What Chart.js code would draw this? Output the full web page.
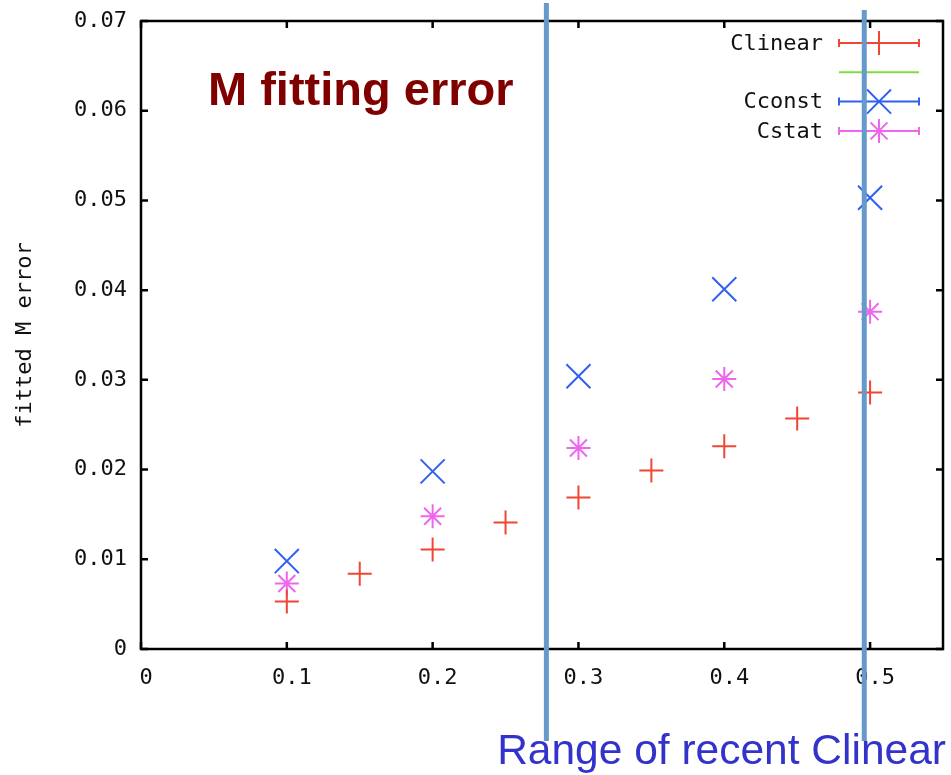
<!DOCTYPE html>
<html>
<head>
<meta charset="utf-8">
<script src="https://cdn.jsdelivr.net/npm/chart.js@4.4.1/dist/chart.umd.min.js"></script>
<style>
  html, body { margin: 0; padding: 0; background: #ffffff; overflow: hidden; }
  canvas { display: block; }
</style>
</head>
<body>
<canvas id="fitChart" width="951" height="775"></canvas>
<script>
// values
var clinearX = [0.1, 0.15, 0.2, 0.25, 0.3, 0.35, 0.4, 0.45, 0.5];
var clinearY = [0.0053, 0.0084, 0.0111, 0.0141, 0.0169, 0.0199, 0.0226, 0.0257, 0.0286];
var cconstX = [0.1, 0.2, 0.3, 0.4, 0.5];
var cconstY = [0.0098, 0.0198, 0.0304, 0.0401, 0.0503];
var cstatX = [0.1, 0.2, 0.3, 0.4, 0.5];
var cstatY = [0.0073, 0.0148, 0.0224, 0.0301, 0.0376];
var xTicks = [0, 0.1, 0.2, 0.3, 0.4, 0.5];
var yTicks = [0, 0.01, 0.02, 0.03, 0.04, 0.05, 0.06, 0.07];
var legendNames = ['Clinear', '', 'Cconst', 'Cstat'];
var rangeLines = [0.278, 0.496];

var monoFont = '"DejaVu Sans Mono", "Liberation Mono", monospace';

function toPoints(xs, ys) {
    return xs.map(function (x, i) { return { x: x, y: ys[i] }; });
}

// box around the plot with gnuplot style inward ticks on all four sides,
// x tick labels are drawn here too
var framePlugin = {
    id: 'frame',
    afterDatasetsDraw: function (chart) {
        var ctx = chart.ctx;
        var a = chart.chartArea;
        var xs = chart.scales.x, ys = chart.scales.y;
        ctx.save();
        ctx.strokeStyle = '#000';
        ctx.lineWidth = 2.5;
        ctx.strokeRect(a.left, a.top, a.right - a.left, a.bottom - a.top);
        ctx.beginPath();
        xTicks.forEach(function (v) {
            var px = xs.getPixelForValue(v);
            ctx.moveTo(px, a.bottom); ctx.lineTo(px, a.bottom - 7);
            ctx.moveTo(px, a.top); ctx.lineTo(px, a.top + 7);
        });
        yTicks.forEach(function (v) {
            var py = ys.getPixelForValue(v);
            ctx.moveTo(a.left, py); ctx.lineTo(a.left + 7, py);
            ctx.moveTo(a.right, py); ctx.lineTo(a.right - 7, py);
        });
        ctx.stroke();

        ctx.fillStyle = '#111';
        ctx.font = '22px ' + monoFont;
        ctx.textAlign = 'center';
        ctx.textBaseline = 'middle';
        xTicks.forEach(function (v) {
            ctx.fillText(String(v), xs.getPixelForValue(v) + 5, a.bottom + 29);
        });
        ctx.restore();
    }
};

// legend in the top right corner, errorbar style samples
var legendPlugin = {
    id: 'keyBox',
    afterDatasetsDraw: function (chart) {
        var ctx = chart.ctx;
        var textRight = 823, x1 = 839, x2 = 919, top = 43, step = 29.3;
        ctx.save();
        ctx.font = '22px ' + monoFont;
        ctx.textAlign = 'right';
        ctx.textBaseline = 'middle';
        chart.data.datasets.forEach(function (ds, i) {
            var y = top + i * step;
            ctx.fillStyle = '#111';
            if (legendNames[i]) ctx.fillText(legendNames[i], textRight, y + 1);
            ctx.strokeStyle = ds.borderColor;
            ctx.lineWidth = 2;
            ctx.beginPath();
            ctx.moveTo(x1, y); ctx.lineTo(x2, y);
            if (ds.pointStyle) {
                ctx.moveTo(x1, y - 4); ctx.lineTo(x1, y + 4);
                ctx.moveTo(x2, y - 4); ctx.lineTo(x2, y + 4);
            }
            ctx.stroke();
            if (ds.pointStyle) {
                Chart.helpers.drawPoint(ctx, {
                    pointStyle: ds.pointStyle,
                    radius: ds.pointRadius,
                    borderWidth: 2
                }, (x1 + x2) / 2, y);
            }
        });
        ctx.restore();
    }
};

// overlay: title, range markers and caption
var notesPlugin = {
    id: 'notes',
    afterDraw: function (chart) {
        var ctx = chart.ctx;
        var xs = chart.scales.x;
        ctx.save();
        ctx.fillStyle = '#800000';
        ctx.font = 'bold 47px "Liberation Sans", Arial, sans-serif';
        ctx.textAlign = 'left';
        ctx.textBaseline = 'alphabetic';
        ctx.fillText('M fitting error', 208, 105);

        ctx.strokeStyle = '#6699cc';
        ctx.lineWidth = 5;
        var tops = [3, 10];
        rangeLines.forEach(function (v, i) {
            var px = xs.getPixelForValue(v);
            ctx.beginPath();
            ctx.moveTo(px, tops[i]);
            ctx.lineTo(px, 741);
            ctx.stroke();
        });

        ctx.fillStyle = '#3333cc';
        ctx.font = '42.5px "Liberation Sans", Arial, sans-serif';
        ctx.textAlign = 'right';
        ctx.fillText('Range of recent Clinear', 946, 764);
        ctx.restore();
    }
};

var ctx = document.getElementById('fitChart');
new Chart(ctx, {
    type: 'scatter',
    data: {
        datasets: [{
            label: 'Clinear',
            data: toPoints(clinearX, clinearY),
            borderColor: '#f04634',
            backgroundColor: '#f04634',
            pointStyle: 'cross',
            pointRadius: 12,
            borderWidth: 2
        }, {
            label: '',
            data: [],
            borderColor: '#80dd40',
            backgroundColor: '#80dd40',
            pointStyle: false,
            pointRadius: 0,
            borderWidth: 2
        }, {
            label: 'Cconst',
            data: toPoints(cconstX, cconstY),
            borderColor: '#3060f0',
            backgroundColor: '#3060f0',
            pointStyle: 'crossRot',
            pointRadius: 17,
            borderWidth: 2
        }, {
            label: 'Cstat',
            data: toPoints(cstatX, cstatY),
            borderColor: '#ee66ee',
            backgroundColor: '#ee66ee',
            pointStyle: 'star',
            pointRadius: 12,
            borderWidth: 2
        }]
    },
    options: {
        responsive: false,
        animation: false,
        layout: { autoPadding: false, padding: { top: 21, right: 8, bottom: 0, left: 0 } },
        scales: {
            x: {
                type: 'linear',
                min: 0,
                max: 0.55,
                afterBuildTicks: function (s) { s.ticks = xTicks.map(function (v) { return { value: v }; }); },
                afterFit: function (s) { s.height = 126; },
                grid: { display: false },
                border: { display: false },
                ticks: { display: false }
            },
            y: {
                type: 'linear',
                min: 0,
                max: 0.07,
                afterBuildTicks: function (s) { s.ticks = yTicks.map(function (v) { return { value: v }; }); },
                afterFit: function (s) {
                    s.width = 141;
                    s.paddingTop = 0;
                    s.paddingBottom = 0;
                },
                grid: { display: false },
                border: { display: false },
                title: {
                    display: true,
                    text: 'fitted M error',
                    color: '#111',
                    padding: { top: 12, bottom: 0 },
                    font: { family: monoFont, size: 22 }
                },
                ticks: {
                    padding: 6,
                    color: '#111',
                    font: { family: monoFont, size: 22 },
                    callback: function (v) { return String(v); }
                }
            }
        },
        plugins: {
            legend: { display: false },
            tooltip: { enabled: false }
        }
    },
    plugins: [framePlugin, legendPlugin, notesPlugin]
});
</script>
</body>
</html>
